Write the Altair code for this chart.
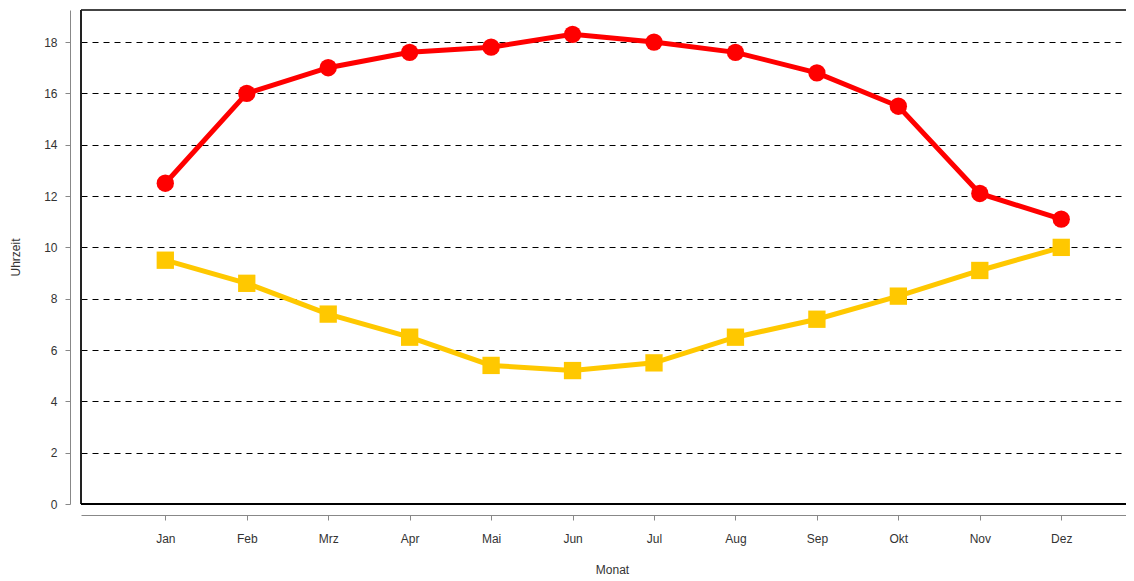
import altair as alt
import pandas as pd

months = ["Jan", "Feb", "Mrz", "Apr", "Mai", "Jun", "Jul", "Aug", "Sep", "Okt", "Nov", "Dez"]
sunset = [12.5, 16.0, 17.0, 17.6, 17.8, 18.3, 18.0, 17.6, 16.8, 15.5, 12.1, 11.1]
sunrise = [9.5, 8.6, 7.4, 6.5, 5.4, 5.2, 5.5, 6.5, 7.2, 8.1, 9.1, 10.0]

rows = []
for i, m in enumerate(months):
    rows.append({"idx": i + 1, "Monat": m, "Uhrzeit": sunset[i], "serie": "A"})
for i, m in enumerate(months):
    rows.append({"idx": i + 1, "Monat": m, "Uhrzeit": sunrise[i], "serie": "B"})
df = pd.DataFrame(rows)

W = 1045
H = 494

label_expr = "[" + ",".join(f"'{m}'" for m in months) + "][datum.value - 1]"

x = alt.X(
    "idx:Q",
    title="Monat",
    scale=alt.Scale(domain=[-0.035, 12.795], nice=False, zero=False),
    axis=alt.Axis(
        values=list(range(1, 13)),
        labelExpr=label_expr,
        grid=False,
        offset=11,
        tickSize=5,
        tickColor="#888888",
        domainColor="#888888",
        labelColor="#333333",
        labelFontSize=12,
        labelPadding=13,
        titleFontSize=12,
        titleFontWeight="normal",
        titleColor="#333333",
        titlePadding=20,
        titleX=531,
        labelFont="Liberation Sans",
        titleFont="Liberation Sans",
    ),
)
y = alt.Y(
    "Uhrzeit:Q",
    title="Uhrzeit",
    scale=alt.Scale(domain=[0, 19.25], nice=False),
    axis=alt.Axis(
        values=list(range(0, 19, 2)),
        grid=True,
        gridColor="#000000",
        gridDash=[6, 5],
        gridWidth=1,
        gridOpacity=1,
        offset=11,
        tickSize=5,
        tickColor="#888888",
        domainColor="#888888",
        labelColor="#333333",
        labelFontSize=12,
        labelPadding=8,
        titleFontSize=12,
        titleFontWeight="normal",
        titleColor="#333333",
        titlePadding=21,
        labelFont="Liberation Sans",
        titleFont="Liberation Sans",
    ),
)
color = alt.Color(
    "serie:N",
    scale=alt.Scale(domain=["A", "B"], range=["#FF0000", "#FFC800"]),
    legend=None,
)
shape = alt.Shape(
    "serie:N",
    scale=alt.Scale(domain=["A", "B"], range=["circle", "square"]),
    legend=None,
)

base = alt.Chart(df)
lines = base.mark_line(strokeWidth=5).encode(x=x, y=y, color=color, detail="serie:N")
points = base.mark_point(filled=True, size=300, opacity=1).encode(x=x, y=y, color=color, shape=shape)

frame_df = pd.DataFrame({"k": [0]})
frame = alt.Chart(frame_df)
top_border = frame.mark_rule(color="#444444", strokeWidth=2).encode(
    x=alt.value(0), x2=alt.value(W + 20), y=alt.value(0)
)
left_border = frame.mark_rule(color="#222222", strokeWidth=2).encode(
    x=alt.value(0), y=alt.value(0), y2=alt.value(H)
)
bottom_border = frame.mark_rule(color="#000000", strokeWidth=2).encode(
    x=alt.value(0), x2=alt.value(W + 20), y=alt.value(H)
)

chart = (
    alt.layer(lines, points, top_border, left_border, bottom_border)
    .properties(
        width=W,
        height=H,
        autosize=alt.AutoSizeParams(type="none"),
        padding={"left": 73, "top": 2, "right": 0, "bottom": 71},
    )
    .configure(font="Liberation Sans")
    .configure_view(strokeWidth=0)
)

chart.save("out.html", embed_options={"renderer": "svg", "actions": False})
